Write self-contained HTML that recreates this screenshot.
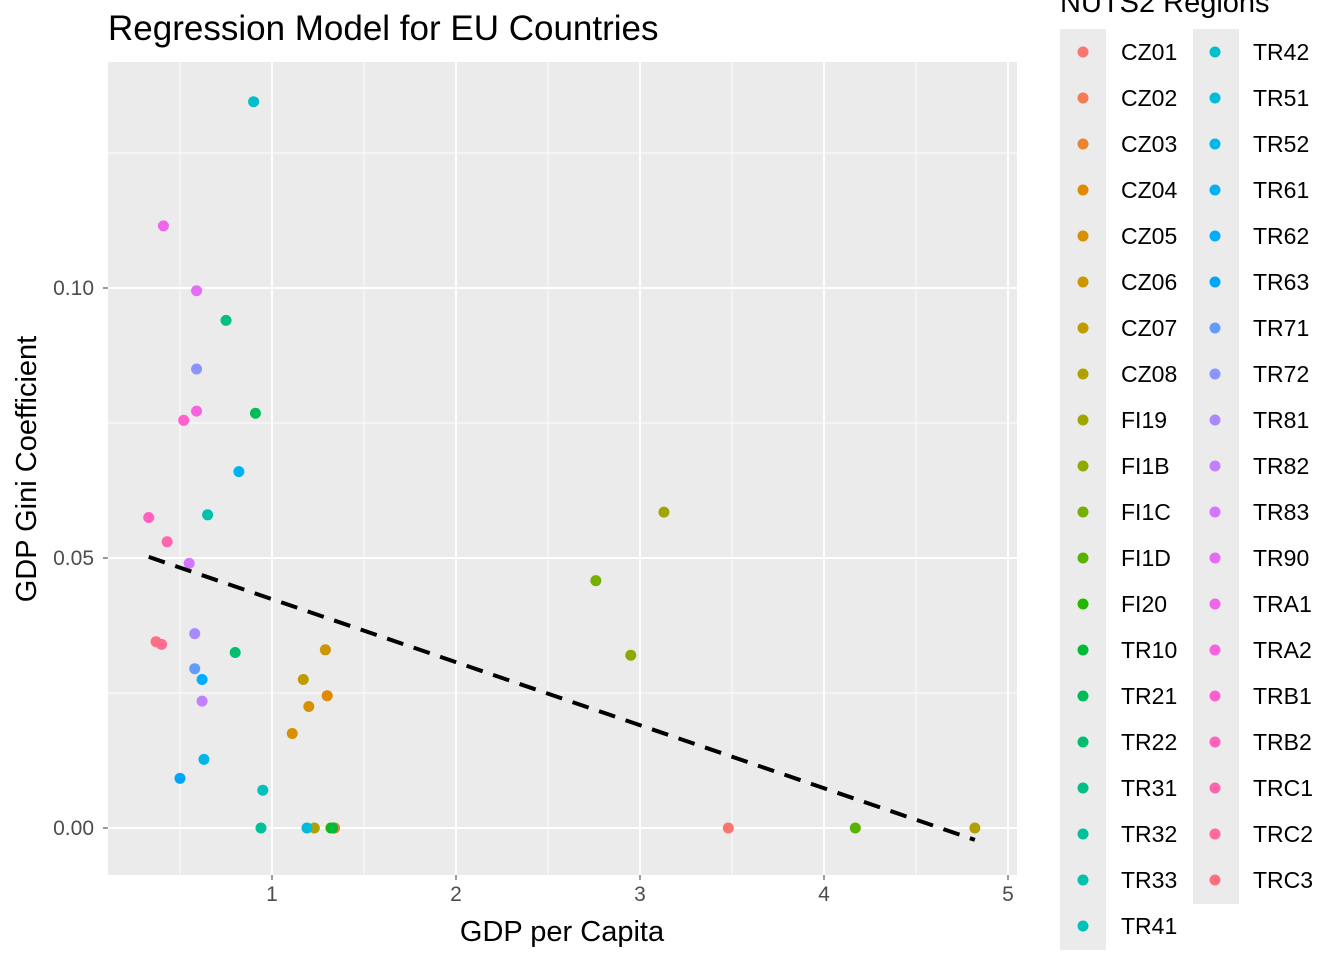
<!DOCTYPE html>
<html><head><meta charset="utf-8"><style>
body{margin:0;background:#fff}
svg{display:block;font-family:"Liberation Sans",Arial,sans-serif}
</style></head><body>
<svg id="chart" width="1344" height="960"></svg>
<script>
const regions=["CZ01","CZ02","CZ03","CZ04","CZ05","CZ06","CZ07","CZ08","FI19","FI1B","FI1C","FI1D","FI20","TR10","TR21","TR22","TR31","TR32","TR33","TR41","TR42","TR51","TR52","TR61","TR62","TR63","TR71","TR72","TR81","TR82","TR83","TR90","TRA1","TRA2","TRB1","TRB2","TRC1","TRC2","TRC3"];
const gdpValues=[3.48,1.34,1.34,1.30,1.11,1.29,1.17,1.23,3.13,2.95,2.76,4.17,1.32,1.33,0.91,0.80,0.75,0.94,0.65,0.95,0.90,1.19,0.63,0.82,0.62,0.50,0.58,0.59,0.58,0.62,0.55,0.59,0.41,0.59,0.52,0.33,0.43,0.40,0.37];
const giniValues=[0.000,0.000,0.000,0.0245,0.0175,0.033,0.0275,0.000,0.0585,0.032,0.0458,0.000,0.000,0.000,0.0768,0.0325,0.094,0.000,0.058,0.0070,0.1345,0.000,0.0127,0.066,0.0275,0.0092,0.0295,0.085,0.036,0.0235,0.049,0.0995,0.1115,0.0772,0.0755,0.0575,0.053,0.034,0.0345];
const extraGdp=[1.20,4.82];
const extraGini=[0.0225,0.000];
const extraRegionIdx=[4,7];
const regLine=[[0.33,0.0502],[4.82,-0.0022]];
const xTicks=[1,2,3,4,5];
const yTicks=[0,0.05,0.10];
const yTickLabels=["0.00","0.05","0.10"];

const NS="http://www.w3.org/2000/svg";
const svg=document.getElementById('chart');
function el(t,a,p){const e=document.createElementNS(NS,t);for(const k in a)e.setAttribute(k,a[k]);(p||svg).appendChild(e);return e;}
const X=v=>88+184*v, Y=v=>828-5400*v;
const L=108,R=1017,T=62,B=875;
function hcl(h,c,l){h=h*Math.PI/180;const U=c*Math.cos(h),V=c*Math.sin(h);
 const un=0.1978398,vn=0.4683363;let y=l>8?Math.pow((l+16)/116,3):l/903.3;
 const u=U/(13*l)+un,v=V/(13*l)+vn;const x=9*y*u/(4*v),z=-x/3-5*y+3*y/v;
 let r=3.240479*x-1.53715*y-0.498535*z,g=-0.969256*x+1.875992*y+0.041556*z,b=0.055648*x-0.204043*y+1.057311*z;
 const f=q=>{q=q>0.00304?1.055*Math.pow(q,1/2.4)-0.055:12.92*q;return Math.round(Math.max(0,Math.min(1,q))*255);};
 return `rgb(${f(r)},${f(g)},${f(b)})`;}
const n=regions.length;
const colors=regions.map((r,i)=>hcl(15+360*i/n,100,65));

el('rect',{x:L,y:T,width:R-L,height:B-T,fill:'#ebebeb'});
[0.5,1.5,2.5,3.5,4.5].forEach(v=>{if(X(v)>L)el('line',{x1:X(v),x2:X(v),y1:T,y2:B,stroke:'#fff','stroke-width':0.9});});
[0.025,0.075,0.125].forEach(v=>el('line',{x1:L,x2:R,y1:Y(v),y2:Y(v),stroke:'#fff','stroke-width':0.9}));
xTicks.forEach(v=>{el('line',{x1:X(v),x2:X(v),y1:T,y2:B,stroke:'#fff','stroke-width':1.9});
 el('line',{x1:X(v),x2:X(v),y1:B,y2:B+5,stroke:'#333','stroke-width':1});
 const t=el('text',{x:X(v),y:B+26,'text-anchor':'middle','font-size':21,fill:'#4d4d4d'});t.textContent=v;
 });
yTicks.forEach((v,i)=>{el('line',{x1:L,x2:R,y1:Y(v),y2:Y(v),stroke:'#fff','stroke-width':1.9});
 el('line',{x1:L-5,x2:L,y1:Y(v),y2:Y(v),stroke:'#333','stroke-width':1});
 const t=el('text',{x:L-14,y:Y(v)+7,'text-anchor':'end','font-size':21,fill:'#4d4d4d'});t.textContent=yTickLabels[i];
 });
regions.forEach((r,i)=>{const c=el('circle',{cx:X(gdpValues[i]),cy:Y(giniValues[i]),r:5.5,fill:colors[i]});
 
 });
extraGdp.forEach((g,i)=>{const c=el('circle',{cx:X(g),cy:Y(extraGini[i]),r:5.5,fill:colors[extraRegionIdx[i]]});
 
 });
const rl=el('line',{x1:X(regLine[0][0]),y1:Y(regLine[0][1]),x2:X(regLine[1][0]),y2:Y(regLine[1][1]),stroke:'#000','stroke-width':4,'stroke-dasharray':'17,11'});


let t;
t=el('text',{x:108,y:40,'font-size':35,fill:'#000'});t.textContent='Regression Model for EU Countries';

t=el('text',{x:562,y:941,'text-anchor':'middle','font-size':29,fill:'#000'});t.textContent='GDP per Capita';

t=el('text',{x:0,y:0,'text-anchor':'middle','font-size':29,fill:'#000',transform:'translate(36,469) rotate(-90)'});t.textContent='GDP Gini Coefficient';

t=el('text',{x:1060,y:12,'font-size':29,fill:'#000'});t.textContent='NUTS2 Regions';

el('rect',{x:1060,y:29,width:46,height:921,fill:'#ebebeb'});
el('rect',{x:1193,y:29,width:46,height:875,fill:'#ebebeb'});
regions.forEach((r,i)=>{const col=i<20?0:1,row=i<20?i:i-20;const cy=52+row*46;
 const kx=col?1215:1083,tx=col?1253:1121;
 const c=el('circle',{cx:kx,cy:cy,r:5.5,fill:colors[i]});
 
 
 const tt=el('text',{x:tx,y:cy+8,'font-size':23,fill:'#000'});tt.textContent=r;
 
 });
</script>
</body></html>
